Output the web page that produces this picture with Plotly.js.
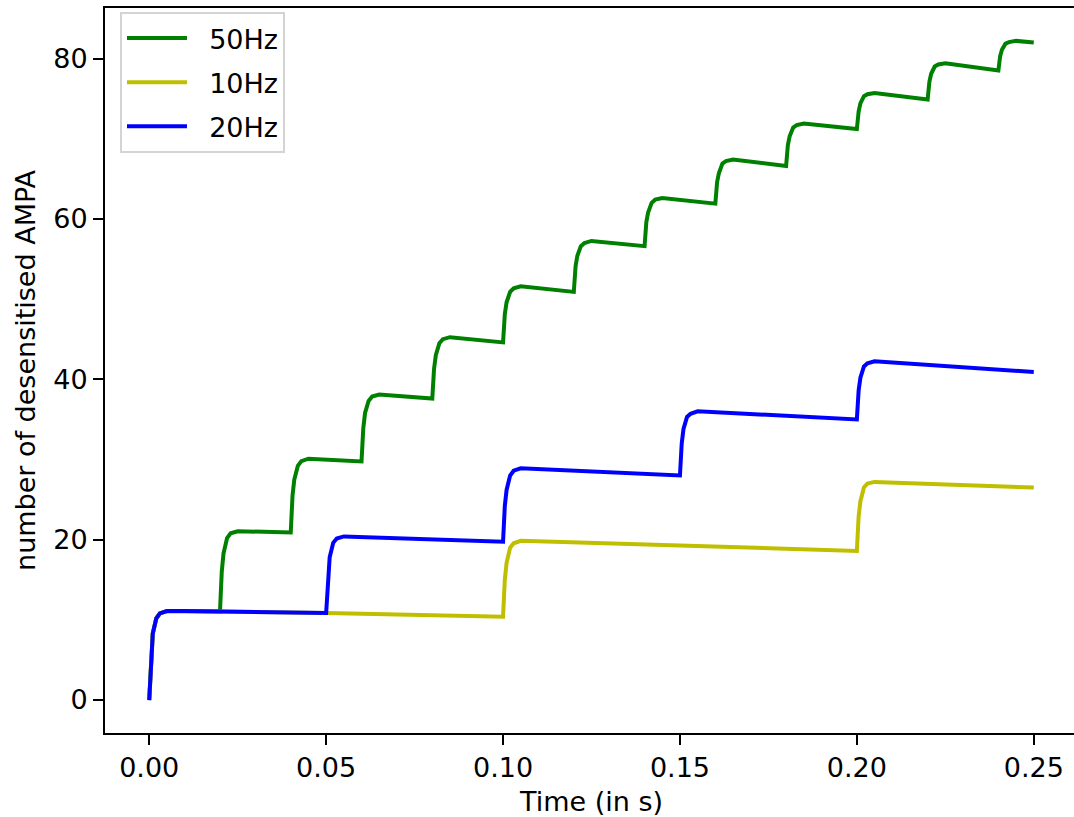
<!DOCTYPE html>
<html>
<head>
<meta charset="utf-8">
<script src="https://cdn.plot.ly/plotly-3.0.1.min.js"></script>
<style>
  html, body { margin: 0; padding: 0; overflow: hidden; background: #ffffff; }
  #chart { width: 1080px; height: 817px; }
</style>
</head>
<body>
<div id="chart"></div>
<script>
// Number of desensitised AMPA receptors over time for three stimulation frequencies.

// 50 Hz train: pulses every 20 ms
const time50 = [
  0, 0.0005, 0.001, 0.002, 0.003, 0.005, 0.010,
  0.020, 0.0205, 0.021, 0.022, 0.023, 0.025,
  0.040, 0.0405, 0.041, 0.042, 0.043, 0.045,
  0.060, 0.0605, 0.061, 0.062, 0.063, 0.065,
  0.080, 0.0805, 0.081, 0.082, 0.083, 0.085,
  0.100, 0.1005, 0.101, 0.102, 0.103, 0.105,
  0.120, 0.1205, 0.121, 0.122, 0.123, 0.125,
  0.140, 0.1405, 0.141, 0.142, 0.143, 0.145,
  0.160, 0.1605, 0.161, 0.162, 0.163, 0.165,
  0.180, 0.1805, 0.181, 0.182, 0.183, 0.185,
  0.200, 0.2005, 0.201, 0.202, 0.203, 0.205,
  0.220, 0.2205, 0.221, 0.222, 0.223, 0.225,
  0.240, 0.2405, 0.241, 0.242, 0.243, 0.245,
  0.250
];
const ampa50 = [
  0, 5.5, 8.3, 10.2, 10.8, 11.1, 11.1,
  11.05, 16.0, 18.3, 20.2, 20.8, 21.05,
  20.9, 25.5, 27.5, 29.2, 29.8, 30.1,
  29.75, 33.9, 35.8, 37.3, 37.85, 38.1,
  37.6, 41.3, 43.0, 44.5, 45.0, 45.25,
  44.6, 48.1, 49.6, 50.9, 51.35, 51.6,
  50.9, 54.1, 55.4, 56.6, 57.0, 57.25,
  56.6, 59.6, 60.8, 62.0, 62.4, 62.6,
  61.9, 64.6, 65.7, 66.9, 67.2, 67.4,
  66.6, 69.2, 70.3, 71.4, 71.7, 71.9,
  71.2, 73.4, 74.4, 75.3, 75.55, 75.7,
  74.9, 77.1, 78.1, 79.0, 79.25, 79.4,
  78.5, 80.3, 81.1, 81.85, 82.05, 82.2,
  82.0
];

// 10 Hz train: pulses every 100 ms
const time10 = [
  0, 0.0005, 0.001, 0.002, 0.003, 0.005, 0.010,
  0.050,
  0.100, 0.1005, 0.101, 0.102, 0.103, 0.105,
  0.200, 0.2005, 0.201, 0.202, 0.203, 0.205,
  0.250
];
const ampa10 = [
  0, 5.5, 8.3, 10.2, 10.8, 11.1, 11.1,
  10.85,
  10.4, 15.0, 17.1, 19.0, 19.55, 19.85,
  18.6, 22.9, 24.8, 26.5, 27.0, 27.2,
  26.5
];

// 20 Hz train: pulses every 50 ms
const time20 = [
  0, 0.0005, 0.001, 0.002, 0.003, 0.005, 0.010,
  0.050, 0.0505, 0.051, 0.052, 0.053, 0.055,
  0.100, 0.1005, 0.101, 0.102, 0.103, 0.105,
  0.150, 0.1505, 0.151, 0.152, 0.153, 0.155,
  0.200, 0.2005, 0.201, 0.202, 0.203, 0.205,
  0.250
];
const ampa20 = [
  0, 5.5, 8.3, 10.2, 10.8, 11.1, 11.1,
  10.85, 15.6, 17.8, 19.6, 20.15, 20.4,
  19.75, 24.2, 26.2, 28.0, 28.6, 28.9,
  28.0, 32.0, 33.8, 35.3, 35.7, 36.0,
  35.0, 38.6, 40.2, 41.6, 42.0, 42.25,
  40.9
];

const xTicks = [0, 0.05, 0.10, 0.15, 0.20, 0.25];
const xTickLabels = ['0.00', '0.05', '0.10', '0.15', '0.20', '0.25'];
const yTicks = [0, 20, 40, 60, 80];

const seriesNames = ['50Hz', '10Hz', '20Hz'];
const seriesColors = ['#008000', '#bfbf00', '#0000ff'];

const FONT = 'DejaVu Sans';
const FS = 27;
const NBSP = '\u00a0\u00a0';

const traces = [
  [time50, ampa50],
  [time10, ampa10],
  [time20, ampa20]
].map(([t, v], i) => ({
  x: t,
  y: v,
  type: 'scatter',
  mode: 'lines',
  name: NBSP + seriesNames[i],
  legendgroup: seriesNames[i],
  line: { color: seriesColors[i], width: 4 }
}));

const axisCommon = {
  showline: true,
  linecolor: '#000000',
  linewidth: 2,
  mirror: true,
  ticks: 'outside',
  ticklen: 10,
  tickwidth: 2,
  tickcolor: '#000000',
  showgrid: false,
  zeroline: false,
  tickfont: { family: FONT, size: FS, color: '#000000' }
};

const layout = {
  width: 1080,
  height: 817,
  margin: { l: 105, r: 2, t: 8, b: 84 },
  paper_bgcolor: '#ffffff',
  plot_bgcolor: '#ffffff',
  font: { family: FONT, size: FS, color: '#000000' },
  showlegend: true,
  legend: {
    x: 0.0154, y: 0.9945, xanchor: 'left', yanchor: 'top',
    bgcolor: 'rgba(255,255,255,0.8)',
    bordercolor: '#d4d4d4',
    borderwidth: 2,
    font: { family: FONT, size: FS, color: '#000000' },
    tracegroupgap: 6,
    itemwidth: 60
  },
  xaxis: Object.assign({}, axisCommon, {
    range: [-0.0125, 0.2625],
    tickvals: xTicks,
    ticktext: xTickLabels,
    title: { text: 'Time (in s)', font: { family: FONT, size: FS }, standoff: 10 }
  }),
  yaxis: Object.assign({}, axisCommon, {
    range: [-4.11, 86.3],
    tickvals: yTicks,
    title: { text: 'number of desensitised AMPA', font: { family: FONT, size: FS }, standoff: 10 }
  })
};

Plotly.newPlot('chart', traces, layout, { staticPlot: true, displayModeBar: false });
</script>
</body>
</html>
